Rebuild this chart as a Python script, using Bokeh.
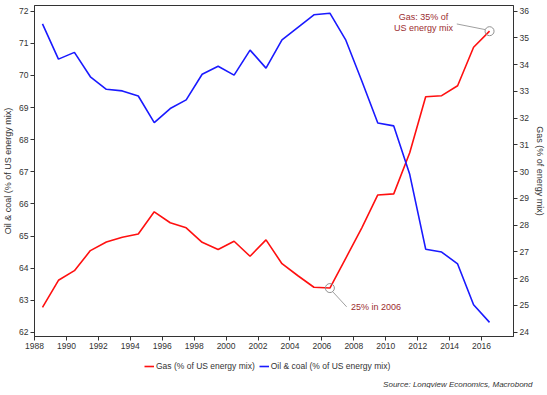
from bokeh.plotting import figure
from bokeh.models import (Range1d, LinearAxis, FixedTicker, SingleIntervalTicker,
                          Legend, LegendItem, Title)
from bokeh.layouts import column
from bokeh.embed import file_html
from bokeh.resources import INLINE
from bokeh.core.properties import value

years = [1988.5 + i for i in range(29)]
oil_coal = [71.61, 70.51, 70.72, 69.96, 69.57, 69.52, 69.36, 68.53, 68.97, 69.24,
            70.04, 70.29, 70.01, 70.79, 70.23, 71.11, 71.50, 71.89, 71.94, 71.10,
            69.83, 68.52, 68.43, 66.92, 64.59, 64.50, 64.13, 62.86, 62.31]
gas = [24.93, 25.94, 26.30, 27.05, 27.37, 27.55, 27.67, 28.50, 28.09, 27.90,
       27.36, 27.09, 27.40, 26.84, 27.45, 26.56, 26.11, 25.68, 25.65, 26.77,
       27.90, 29.13, 29.17, 30.71, 32.80, 32.84, 33.21, 34.65, 35.25]
x_ticks = list(range(1988, 2017, 2))
series_labels = ["Gas (% of US energy mix)", "Oil & coal (% of US energy mix)"]
series_colors = ["#ff1010", "#1a1aff"]

FONT = "Liberation Sans"
TXT = "#333333"
ANN = "#9b2d30"
W = 547

p = figure(width=W, height=351, output_backend="svg", toolbar_location=None,
           x_range=Range1d(1988, 2018), y_range=Range1d(61.87, 72.18),
           min_border_top=5, min_border_left=2, min_border_right=2, min_border_bottom=0)
p.extra_y_ranges = {"gas": Range1d(23.84, 36.21)}
p.grid.visible = False
p.outline_line_color = TXT
p.outline_line_width = 1
p.background_fill_color = "white"

def style_axis(ax):
    ax.axis_line_color = TXT
    ax.major_tick_line_color = TXT
    ax.major_tick_out = 4
    ax.major_tick_in = 0
    ax.minor_tick_line_color = None
    ax.major_label_text_font = FONT
    ax.major_label_text_font_size = "8.5px"
    ax.major_label_text_color = TXT
    ax.major_label_standoff = 2
    ax.axis_label_text_font = FONT
    ax.axis_label_text_font_size = "9px"
    ax.axis_label_text_color = TXT
    ax.axis_label_text_font_style = "normal"
    ax.axis_label_standoff = 3

p.xaxis.ticker = FixedTicker(ticks=x_ticks)
p.yaxis.ticker = SingleIntervalTicker(interval=1)
p.yaxis.axis_label = "Oil & coal (% of US energy mix)"
style_axis(p.xaxis[0])
style_axis(p.yaxis[0])

rax = LinearAxis(y_range_name="gas", ticker=SingleIntervalTicker(interval=1),
                 axis_label="Gas (% of energy mix)")
style_axis(rax)
p.add_layout(rax, "right")

p.line(years, gas, y_range_name="gas", line_color=series_colors[0], line_width=1.6)
p.line(years, oil_coal, line_color=series_colors[1], line_width=1.6)

# annotations
i06 = years.index(2006.5)
ann_x = [years[i06], years[-1]]
ann_y = [gas[i06], gas[-1]]
p.segment(x0=[ann_x[0] + 0.2, ann_x[1] - 2.05], y0=[ann_y[0] - 0.15, ann_y[1] + 0.27],
          x1=[ann_x[0] + 1.05, ann_x[1] - 0.28], y1=[ann_y[0] - 0.7, ann_y[1] + 0.06],
          y_range_name="gas", line_color="#a0a0a0", line_width=1)
p.scatter(ann_x, ann_y, y_range_name="gas", marker="circle", size=9,
          fill_color=None, line_color="#909090", line_width=1)
p.text(x=[ann_x[0]], y=[ann_y[0]], text=["25% in 2006"], y_range_name="gas",
       x_offset=21, y_offset=19, text_font=value(FONT), text_font_size="9px",
       text_color=ANN, text_align="left", text_baseline="middle")
p.text(x=[ann_x[1], ann_x[1]], y=[ann_y[1], ann_y[1]],
       text=["Gas: 35% of", "US energy mix"], y_range_name="gas",
       x_offset=[-66, -66], y_offset=[-14, -3], text_font=value(FONT),
       text_font_size="9px", text_color=ANN, text_align="center",
       text_baseline="middle")

# legend + source strip (series drawn out of view so only legend swatches show)
H2 = 37
p2 = figure(width=W, height=H2, output_backend="svg", toolbar_location=None,
            x_range=Range1d(0, 1), y_range=Range1d(0, 1),
            x_axis_location=None, y_axis_location=None,
            min_border=0, outline_line_color=None)
p2.grid.visible = False
items = []
for lab, col, ys in zip(series_labels, series_colors, [gas, oil_coal]):
    r = p2.line(years, ys, line_color=col, line_width=1.6)
    items.append(LegendItem(label=lab, renderers=[r]))
legend = Legend(items=items, orientation="horizontal", location=(110, 6),
                label_text_font=FONT, label_text_font_size="8.5px",
                label_text_color=TXT, glyph_width=10, glyph_height=8,
                label_standoff=2, spacing=4, padding=2, margin=0,
                label_height=8, border_line_color=None, background_fill_alpha=0)
p2.add_layout(legend)
src = Title(text="Source: Longview Economics, Macrobond", align="right",
            text_font=FONT, text_font_size="8px", text_font_style="italic",
            text_color=TXT, offset=-19, standoff=0)
p2.add_layout(src, "below")

open("out.html", "w").write(file_html(column(p, p2, spacing=0), INLINE))
